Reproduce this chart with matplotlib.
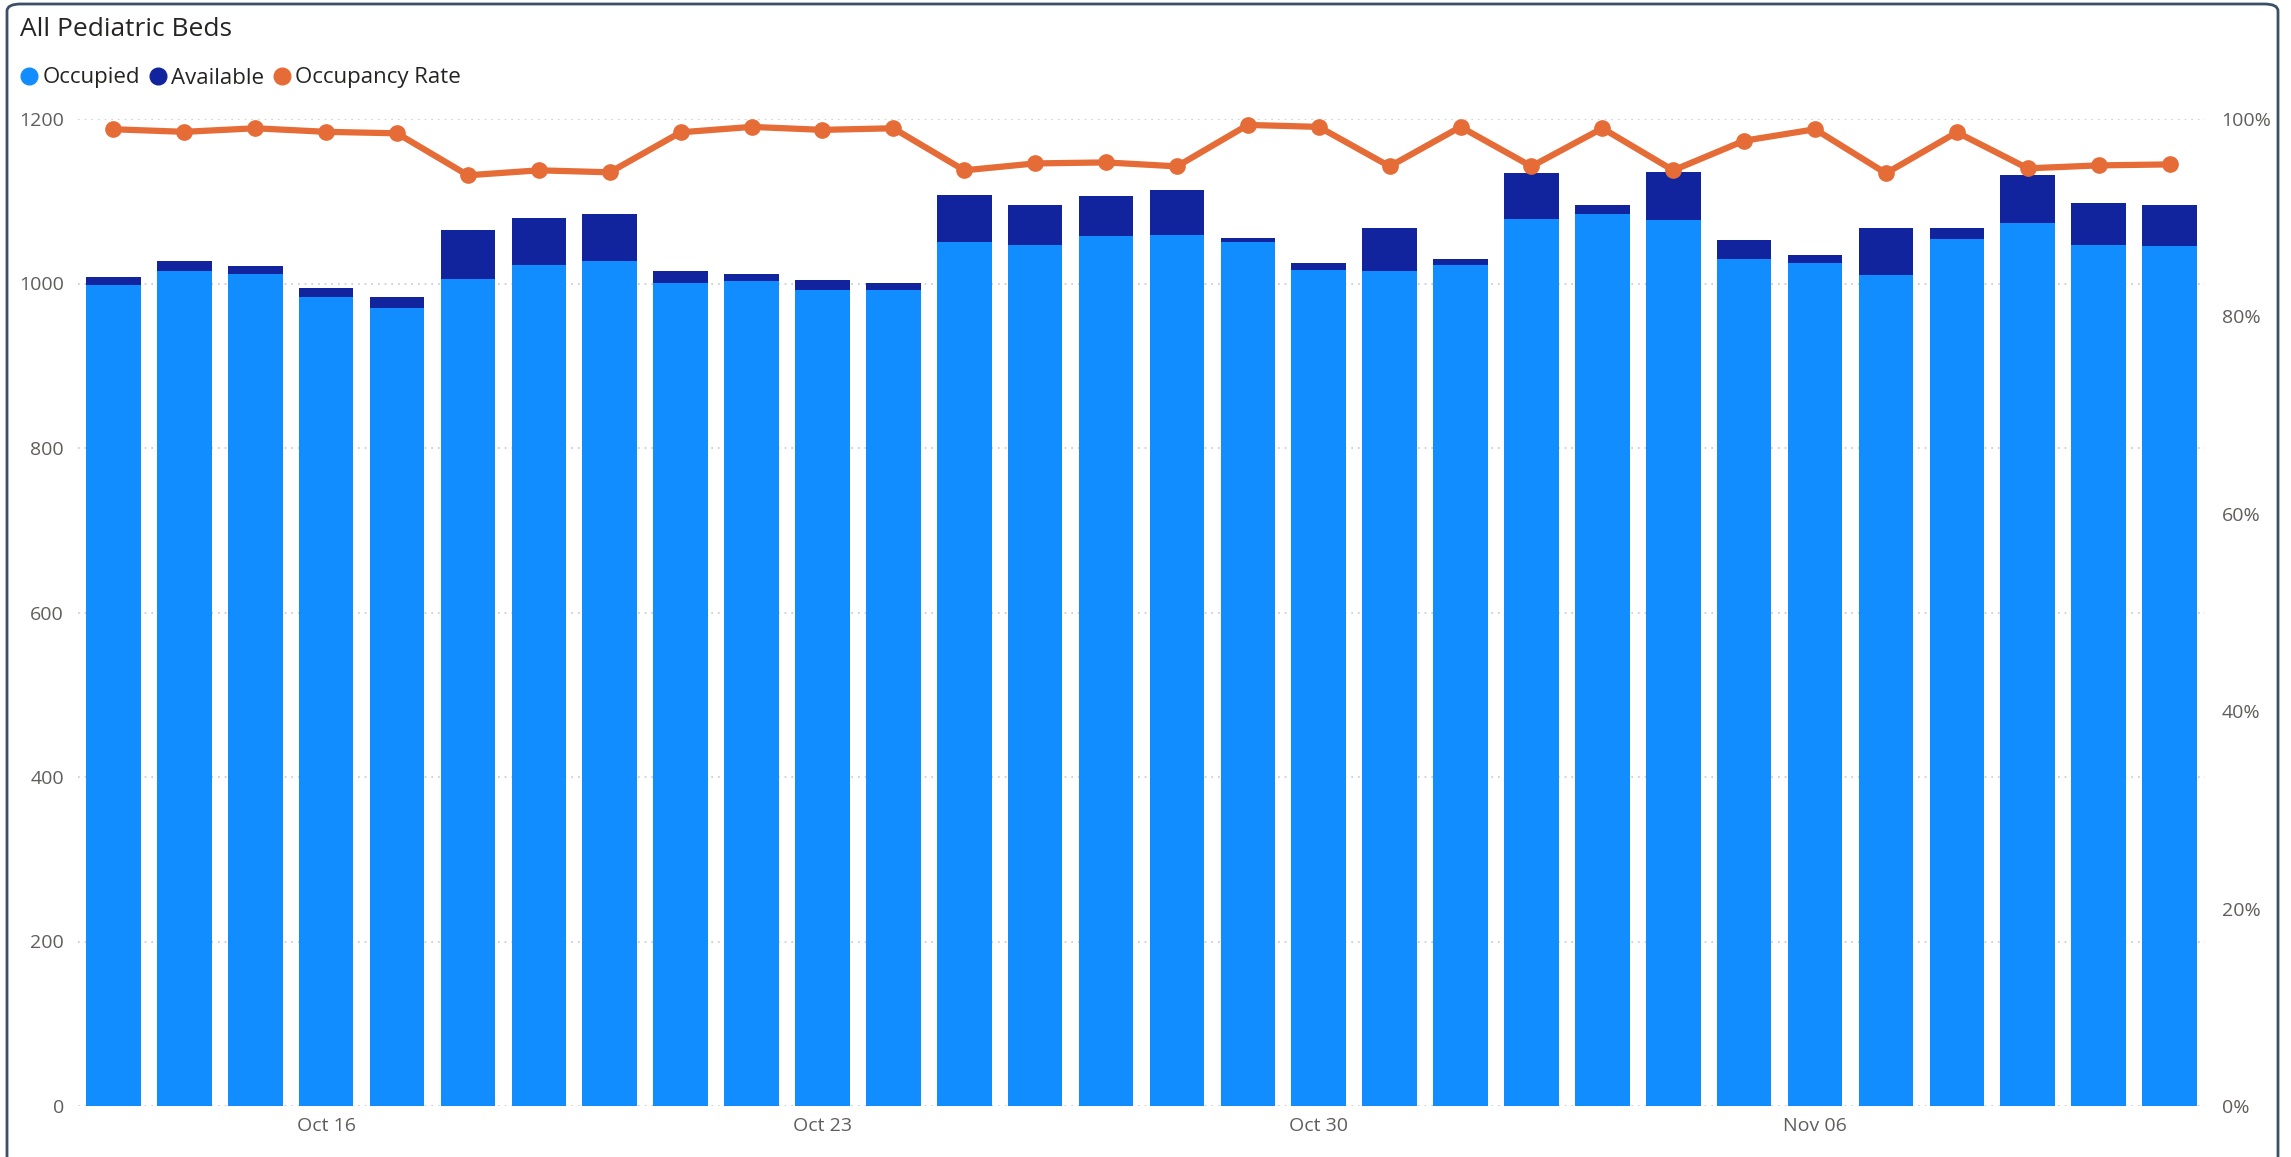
import matplotlib.pyplot as plt
import matplotlib.ticker as mticker
from matplotlib.patches import FancyBboxPatch
from matplotlib.lines import Line2D
import numpy as np

# data (Oct 13 - Nov 11)
dates = ["Oct 13", "Oct 14", "Oct 15", "Oct 16", "Oct 17", "Oct 18", "Oct 19", "Oct 20",
         "Oct 21", "Oct 22", "Oct 23", "Oct 24", "Oct 25", "Oct 26", "Oct 27", "Oct 28",
         "Oct 29", "Oct 30", "Oct 31", "Nov 01", "Nov 02", "Nov 03", "Nov 04", "Nov 05",
         "Nov 06", "Nov 07", "Nov 08", "Nov 09", "Nov 10", "Nov 11"]
occupied = [998, 1015, 1012, 983, 970, 1005, 1023, 1027, 1001, 1003,
            992, 992, 1051, 1047, 1058, 1059, 1050, 1017, 1015, 1022,
            1078, 1085, 1077, 1030, 1025, 1010, 1054, 1074, 1047, 1045]
available = [10, 12, 9, 12, 14, 60, 57, 58, 14, 8,
             12, 9, 57, 49, 48, 55, 5, 8, 52, 8,
             56, 10, 59, 23, 10, 58, 14, 58, 51, 50]
occupancy_rate = [98.96, 98.7, 99.06, 98.7, 98.55, 94.3, 94.8, 94.6, 98.65, 99.2,
                  98.9, 99.06, 94.8, 95.5, 95.6, 95.2, 99.4, 99.2, 95.2, 99.2,
                  95.2, 99.06, 94.8, 97.8, 98.96, 94.5, 98.65, 95.0, 95.3, 95.4]
tick_labels = {"Oct 16": "Oct 16", "Oct 23": "Oct 23", "Oct 30": "Oct 30", "Nov 06": "Nov 06"}

c_occ = "#118DFF"
c_avail = "#12239E"
c_rate = "#E66C37"
c_text = "#605E5C"

plt.rcParams['font.family'] = ['Open Sans', 'DejaVu Sans']

fig = plt.figure(figsize=(22.91, 11.57), dpi=100)
ax = fig.add_axes([78 / 2291, 1 - 1106 / 1157, (2205 - 78) / 2291, (1106 - 119) / 1157])

x = np.arange(len(dates))
ax.bar(x, occupied, width=0.77, color=c_occ, zorder=2)
ax.bar(x, available, width=0.77, bottom=occupied, color=c_avail, zorder=2)

ax.set_xlim(-0.5, len(dates) - 0.5)
ax.set_ylim(0, 1200)
ax.set_yticks(range(0, 1201, 200))
ax.yaxis.grid(True, linestyle=(0, (1, 3)), color="#c8c8c8", linewidth=1.2, zorder=0)
ax.set_axisbelow(True)

tick_pos = [dates.index(d) for d in tick_labels]
ax.set_xticks(tick_pos)
ax.set_xticklabels(list(tick_labels.values()))
ax.tick_params(axis="both", length=0, labelsize=14, labelcolor=c_text)
ax.tick_params(axis="x", pad=8)
ax.tick_params(axis="y", pad=10)
for s in ax.spines.values():
    s.set_visible(False)

ax2 = ax.twinx()
ax2.plot(x, np.array(occupancy_rate) / 100, color=c_rate, linewidth=4.5, marker="o",
         markersize=11, clip_on=False, zorder=5)
ax2.set_ylim(0, 1.0)
ax2.set_yticks(np.arange(0, 1.01, 0.2))
ax2.yaxis.set_major_formatter(mticker.PercentFormatter(1.0, decimals=0))
ax2.tick_params(axis="y", length=0, labelsize=14, labelcolor=c_text, pad=12)
for s in ax2.spines.values():
    s.set_visible(False)

# title and legend
fig.text(20 / 2291, 1 - 30 / 1157, "All Pediatric Beds", fontsize=19, color="#252423",
         ha="left", va="center")
handles = [Line2D([], [], linestyle="", marker="o", markersize=12, color=c) for c in (c_occ, c_avail, c_rate)]
fig.legend(handles, ["Occupied", "Available", "Occupancy Rate"], loc="center left",
           bbox_to_anchor=(18 / 2291, 1 - 78 / 1157), ncol=3, frameon=False, fontsize=16,
           handlelength=1.0, handletextpad=0.1, columnspacing=0.3, borderpad=0,
           borderaxespad=0, labelcolor="#252423")

# card border
border = FancyBboxPatch((7 / 2291, -0.05), (2278 - 7) / 2291, 1 - 4 / 1157 + 0.05,
                        boxstyle="round,pad=0,rounding_size=0.006", transform=fig.transFigure,
                        facecolor="none", edgecolor="#3b5068", linewidth=2, clip_on=False)
fig.patches.append(border)

fig.savefig("out.png", dpi=100)
